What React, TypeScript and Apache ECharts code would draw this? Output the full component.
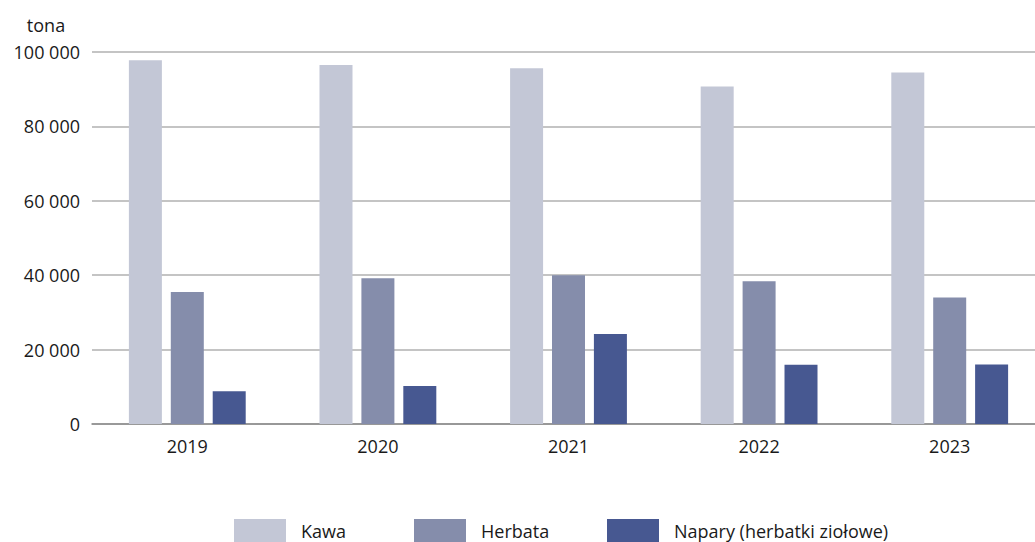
import React, { useEffect, useRef } from "react";
import * as echarts from "echarts";

const years = ["2019", "2020", "2021", "2022", "2023"];
const kawa = [97800, 96500, 95600, 90700, 94500];
const herbata = [35500, 39200, 40000, 38400, 34000];
const napary = [8800, 10200, 24200, 15900, 16000];
const yTicks = { min: 0, max: 100000, interval: 20000 };
const unitLabel = "tona";
const seriesNames = ["Kawa", "Herbata", "Napary (herbatki ziołowe)"];
const colors = ["#c3c7d6", "#858dab", "#475891"];
const legendLefts = [234, 414, 607];

const FONT = "Open Sans";
const CHART_W = 1060;

export default function App() {
  const ref = useRef<HTMLDivElement>(null);
  useEffect(() => {
    if (!ref.current) return;
    const chart = echarts.init(ref.current, undefined, { renderer: "svg" });
    const fmt = (v: number) =>
      String(v).replace(/\B(?=(\d{3})+(?!\d))/g, " ");
    const data = [kawa, herbata, napary];
    chart.setOption({
      animation: false,
      textStyle: { fontFamily: FONT },
      grid: { left: 92, top: 52, right: CHART_W - 1045, height: 372, containLabel: false },
      graphic: [
        {
          type: "text",
          x: 46,
          y: 25,
          style: {
            text: unitLabel,
            font: `18px "${FONT}"`,
            fill: "#1a1a1a",
            textAlign: "center",
            textVerticalAlign: "middle",
          },
        },
      ],
      legend: seriesNames.map((name, i) => ({
        top: 519,
        left: legendLefts[i],
        padding: 0,
        itemWidth: 52,
        itemHeight: 24,
        icon: "rect",
        data: [name],
        textStyle: {
          fontFamily: FONT,
          fontSize: 18,
          color: "#1a1a1a",
          padding: [0, 0, 0, 10],
        },
      })),
      xAxis: {
        type: "category",
        data: years,
        axisTick: { show: false },
        axisLine: { lineStyle: { color: "#8a8a8a", width: 1.5 } },
        axisLabel: {
          color: "#1a1a1a",
          fontSize: 18,
          fontFamily: FONT,
          margin: 13,
        },
      },
      yAxis: {
        type: "value",
        min: yTicks.min,
        max: yTicks.max,
        interval: yTicks.interval,
        axisLine: { show: false },
        axisTick: { show: false },
        splitLine: { lineStyle: { color: "#b0b0b0", width: 1.5 } },
        axisLabel: {
          color: "#1a1a1a",
          fontSize: 18,
          fontFamily: FONT,
          margin: 12,
          formatter: (v: number) => fmt(v),
        },
      },
      series: seriesNames.map((name, i) => ({
        name,
        type: "bar",
        data: data[i],
        barWidth: 33,
        barGap: "27%",
        itemStyle: { color: colors[i] },
      })),
    });
    return () => chart.dispose();
  }, []);
  return (
    <div
      style={{
        position: "absolute",
        left: 0,
        top: 0,
        width: 1035,
        height: 542,
        overflow: "hidden",
        background: "#fff",
      }}
    >
      <div ref={ref} style={{ width: CHART_W, height: 542 }} />
    </div>
  );
}
